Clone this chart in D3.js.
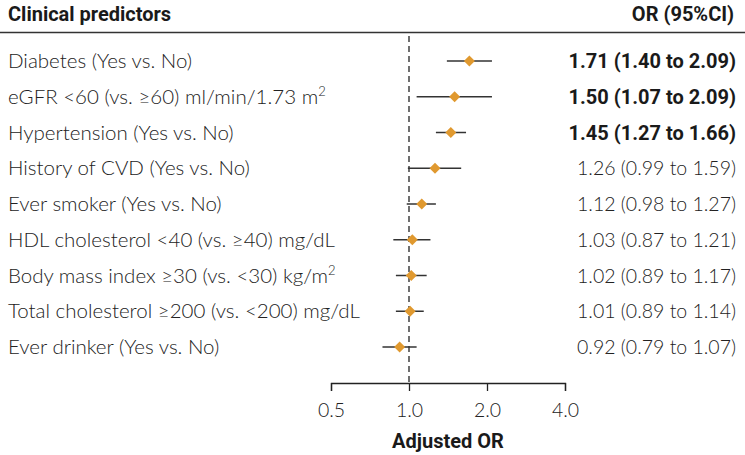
<!DOCTYPE html>
<html>
<head>
<meta charset="utf-8">
<script src="https://cdn.jsdelivr.net/npm/d3@7"></script>
<style>
  body { margin: 0; background: #fff; }
  .lbl { font-family: Lato, "Open Sans", sans-serif; font-weight: 300; font-size: 20.5px; fill: #222; }
  .val { font-family: Lato, "Open Sans", sans-serif; font-weight: 300; font-size: 19.5px; fill: #222; }
  .bold { font-family: Roboto, sans-serif; font-weight: 700; font-size: 20px; fill: #1a1a1a; }
  .head { font-family: Roboto, sans-serif; font-weight: 700; font-size: 20px; fill: #1a1a1a; }
</style>
</head>
<body>
<svg id="chart"></svg>
<script>
const predictors = [
  "Diabetes (Yes vs. No)",
  "eGFR <60 (vs. ≥60) ml/min/1.73 m^2",
  "Hypertension (Yes vs. No)",
  "History of CVD (Yes vs. No)",
  "Ever smoker (Yes vs. No)",
  "HDL cholesterol <40 (vs. ≥40) mg/dL",
  "Body mass index ≥30 (vs. <30) kg/m^2",
  "Total cholesterol ≥200 (vs. <200) mg/dL",
  "Ever drinker (Yes vs. No)"
];
const oddsRatio = [1.71, 1.50, 1.45, 1.26, 1.12, 1.03, 1.02, 1.01, 0.92];
const lower = [1.40, 1.07, 1.27, 0.99, 0.98, 0.87, 0.89, 0.89, 0.79];
const upper = [2.09, 2.09, 1.66, 1.59, 1.27, 1.21, 1.17, 1.14, 1.07];
const significant = [true, true, true, false, false, false, false, false, false];
const tickValues = [0.5, 1, 2, 4];

const width = 745;
const height = 455;

const svg = d3.select("#chart")
  .attr("width", width)
  .attr("height", height);

const rows = predictors.map((p, i) => ({
  label: p, or: oddsRatio[i], lo: lower[i], hi: upper[i], sig: significant[i]
}));

const x = d3.scaleLog().base(2).domain([0.5, 4]).range([331, 565]);
const y = d3.scalePoint().domain(d3.range(rows.length)).range([61, 347]);
const axisY = 383;
const f = d3.format(".2f");

// header
svg.append("text").attr("class", "head").attr("x", 8).attr("y", 21).text("Clinical predictors");
svg.append("text").attr("class", "head").attr("x", 683).attr("y", 21)
  .attr("text-anchor", "middle").text("OR (95%CI)");
svg.append("line")
  .attr("x1", 0).attr("x2", width).attr("y1", 32.5).attr("y2", 32.5)
  .attr("stroke", "#333").attr("stroke-width", 1.3);

// reference line at OR = 1
svg.append("line")
  .attr("x1", x(1)).attr("x2", x(1)).attr("y1", 36).attr("y2", axisY)
  .attr("stroke", "#222").attr("stroke-width", 1.3)
  .attr("stroke-dasharray", "6,4");

// axis
const axis = d3.axisBottom(x)
  .tickValues(tickValues)
  .tickFormat(d3.format(".1f"))
  .tickSizeOuter(0)
  .tickSize(8)
  .tickPadding(12);

const gx = svg.append("g").attr("transform", `translate(0,${axisY})`).call(axis);
gx.select(".domain").attr("stroke", "#222").attr("stroke-width", 1.3);
gx.selectAll(".tick line").attr("stroke", "#222").attr("stroke-width", 1.3);
gx.selectAll(".tick text")
  .attr("class", "val")
  .attr("fill", "#222")
  .style("font-size", "19.5px");

svg.append("text").attr("class", "head")
  .attr("x", 448).attr("y", 448).attr("text-anchor", "middle")
  .text("Adjusted OR");

// row labels
const lbl = svg.selectAll(".rowlbl")
  .data(rows)
  .join("text")
  .attr("class", "lbl rowlbl")
  .attr("x", 8)
  .attr("y", (d, i) => y(i) + 7);

lbl.each(function(d) {
  const t = d3.select(this);
  const parts = d.label.split("^2");
  t.append("tspan").text(parts[0]);
  if (parts.length > 1) {
    t.append("tspan").attr("dy", -8).style("font-size", "13px").text("2");
    t.append("tspan").attr("dy", 8).text(parts[1]);
  }
});

// CI lines
svg.selectAll(".ci")
  .data(rows)
  .join("line")
  .attr("class", "ci")
  .attr("x1", d => x(d.lo))
  .attr("x2", d => x(d.hi))
  .attr("y1", (d, i) => y(i))
  .attr("y2", (d, i) => y(i))
  .attr("stroke", "#333")
  .attr("stroke-width", 1.5);

// point estimates
svg.selectAll(".pt")
  .data(rows)
  .join("path")
  .attr("class", "pt")
  .attr("d", "M0,-5.5L5.5,0L0,5.5L-5.5,0Z")
  .attr("transform", (d, i) => `translate(${x(d.or)},${y(i)})`)
  .attr("fill", "#E0992F");

// OR text
svg.selectAll(".ortxt")
  .data(rows)
  .join("text")
  .attr("class", d => d.sig ? "bold ortxt" : "val ortxt")
  .attr("x", 736)
  .attr("y", (d, i) => y(i) + 7)
  .attr("text-anchor", "end")
  .text(d => `${f(d.or)} (${f(d.lo)} to ${f(d.hi)})`);
</script>
</body>
</html>
